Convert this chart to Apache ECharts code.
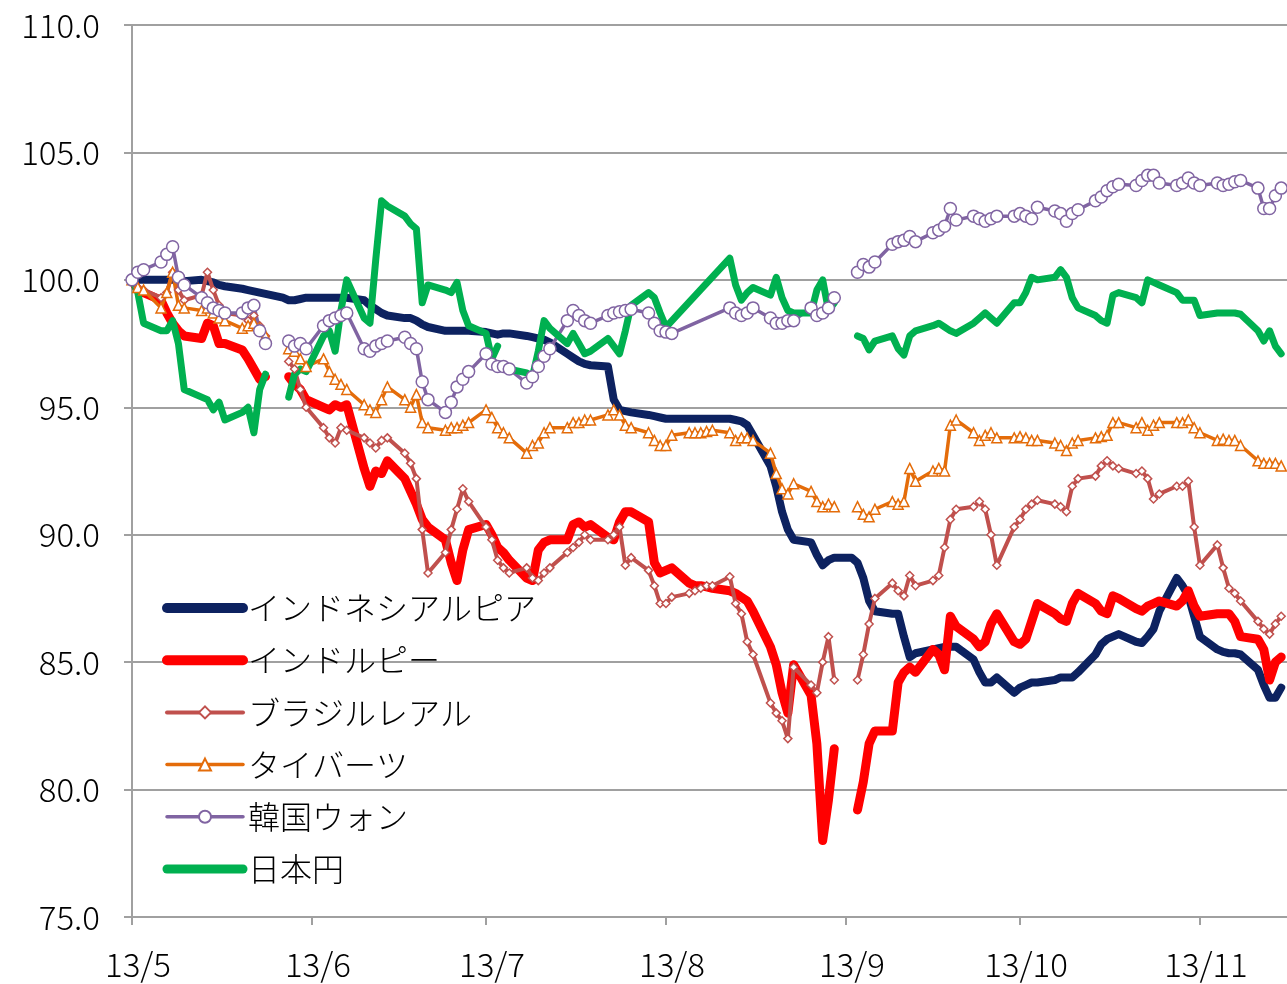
<!DOCTYPE html>
<html><head><meta charset="utf-8">
<script src="https://cdn.jsdelivr.net/npm/echarts@6/dist/echarts.min.js"></script>
<style>html,body{margin:0;padding:0;background:#fff}#c{width:1287px;height:984px}</style>
</head><body><div id="c"></div>
<script>
const _ = undefined; // day without a point (line is drawn straight across it)
const startDate = '2013-05-01';
const endDate = '2013-11-15';
const axisEnd = '2013-11-16';
const monthLabelPrefix = '13/';
const yTicks = [75, 80, 85, 90, 95, 100, 105, 110];
const seriesNames = ['インドネシアルピア', 'インドルピー', 'ブラジルレアル', 'タイバーツ', '韓国ウォン', '日本円'];

// business days (Mon-Fri) between startDate and endDate
function weekdays(s, e) {
  const out = []; let d = new Date(s + 'T00:00:00Z'); const end = new Date(e + 'T00:00:00Z');
  while (d <= end) { const w = d.getUTCDay(); if (w !== 0 && w !== 6) out.push(d.toISOString().slice(0, 10)); d = new Date(d.getTime() + 86400000); }
  return out;
}
const dates = weekdays(startDate, endDate);

// values per business day, grouped by month (May 23, Jun 20, Jul 23, Aug 22, Sep 21, Oct 23, Nov 11)
const idr = [
  100.0,100.0,100.0,100.0,100.0,100.0,100.0,99.95,100.0,99.95,99.9,99.8,99.75,99.65,99.6,99.55,99.5,99.45,99.3,99.2,99.2,99.25,99.3,
  99.3,99.3,99.3,99.3,99.3,99.2,99.0,98.85,98.7,98.6,98.5,98.5,98.4,98.25,98.15,98.0,98.0,98.0,98.0,98.0,
  97.95,97.9,97.85,97.9,97.9,97.8,97.75,97.7,97.65,97.55,97.1,96.95,96.8,96.7,96.65,96.6,95.3,94.9,94.85,94.8,94.7,94.65,94.6,
  94.55,94.55,94.55,94.55,94.55,94.55,94.55,94.55,94.5,94.45,94.3,93.9,92.7,91.9,90.9,90.2,89.8,89.7,89.2,88.8,89.0,89.1,
  89.1,88.9,88.3,87.4,87.0,86.9,86.9,86.0,85.2,85.35,85.5,85.55,85.6,85.6,85.6,85.1,84.6,84.2,84.2,84.4,83.8,
  84.0,84.1,84.2,84.2,84.3,84.4,84.4,84.4,84.6,85.3,85.7,85.9,86.0,86.1,85.8,85.75,86.0,86.3,87.0,88.3,88.0,87.6,86.8,
  86.0,85.5,85.4,85.35,85.35,85.3,84.7,84.1,83.6,83.6,84.0
];
const inr = [
  100.0,99.6,99.5,99.2,98.7,98.3,98.0,97.8,97.7,98.3,98.2,97.5,97.5,97.25,96.9,96.5,96.1,96.2,null,96.2,95.9,95.7,95.3,
  95.0,94.9,95.1,95.0,95.1,92.6,91.9,92.5,92.4,92.9,92.2,91.7,91.2,90.6,90.3,89.8,88.9,88.2,89.4,90.2,
  90.4,90.0,89.5,89.3,89.0,88.3,88.2,89.4,89.7,89.8,89.8,90.4,90.5,90.3,90.4,89.9,89.8,90.5,90.9,90.9,90.5,88.9,88.5,
  88.6,88.7,88.1,88.0,88.0,87.95,87.9,87.8,87.7,87.55,87.4,87.0,85.6,84.9,83.8,83.0,84.9,83.7,81.8,78.0,79.6,81.6,
  null,79.2,80.3,81.8,82.3,82.3,84.2,84.6,84.8,84.6,85.5,85.3,84.7,86.8,86.4,85.9,85.6,85.8,86.5,86.9,85.8,
  85.7,85.9,86.6,87.3,86.9,86.7,86.6,87.3,87.7,87.3,87.0,86.9,87.6,87.5,87.1,87.0,87.2,87.3,87.4,87.2,87.4,87.8,87.2,
  86.8,86.9,86.9,86.9,86.6,86.0,85.9,85.5,84.3,85.0,85.2
];
const brl = [
  100.0,99.7,99.6,99.3,99.5,100.3,99.6,99.2,99.4,100.3,99.6,99.0,98.7,98.6,98.4,98.6,98.2,97.8,null,96.8,96.5,95.7,95.0,
  94.2,93.8,93.6,94.2,94.1,93.8,93.6,93.4,93.7,93.8,93.2,92.8,92.2,90.2,88.5,89.3,90.2,91.0,91.8,91.3,
  90.3,89.8,89.0,88.7,88.5,88.7,88.3,88.2,88.5,88.7,89.3,89.5,89.7,90.0,89.8,89.8,90.0,90.3,88.8,89.1,88.6,88.0,87.3,
  87.3,87.55,87.7,87.8,87.9,88.0,88.0,88.35,87.3,86.9,85.8,85.3,83.4,83.0,82.7,82.0,84.8,84.1,83.8,85.0,86.0,84.3,
  null,84.3,85.3,86.5,87.5,88.1,87.8,87.6,88.4,88.0,88.2,88.4,89.5,90.6,91.0,91.1,91.3,91.0,90.0,88.8,90.3,
  90.6,91.0,91.2,91.35,91.2,91.1,90.9,91.9,92.2,92.3,92.7,92.9,92.7,92.6,92.4,92.5,92.2,91.4,91.6,91.9,91.9,92.1,90.3,
  88.8,89.6,88.7,87.9,87.7,87.4,86.6,86.3,86.1,86.5,86.8
];
const thb = [
  100.0,99.7,99.6,98.9,99.5,100.3,99.0,98.9,98.8,98.9,98.7,98.5,98.4,98.1,98.2,98.3,98.1,97.8,null,97.3,97.2,96.9,96.6,
  96.9,96.4,96.1,95.9,95.7,95.1,94.9,94.8,95.3,95.8,95.3,95.0,95.5,94.4,94.2,94.1,94.2,94.2,94.3,94.4,
  94.9,94.6,94.2,94.0,93.8,93.2,93.5,93.6,94.0,94.2,94.2,94.4,94.4,94.5,94.5,94.7,94.9,94.7,94.3,94.2,94.0,93.7,93.5,
  93.5,93.9,94.0,94.0,94.0,94.05,94.1,94.0,93.7,93.8,93.8,93.7,93.2,92.4,91.8,91.6,92.0,91.7,91.3,91.1,91.2,91.1,
  null,91.1,90.8,90.7,91.0,91.3,91.2,91.3,92.6,92.1,92.5,92.6,92.5,94.3,94.5,94.0,93.7,93.9,94.0,93.8,93.8,
  93.85,93.8,93.7,93.7,93.6,93.5,93.3,93.6,93.7,93.8,93.85,93.9,94.4,94.4,94.2,94.4,94.1,94.3,94.4,94.4,94.4,94.5,94.2,
  94.0,93.7,93.75,93.7,93.7,93.5,92.9,92.8,92.8,92.8,92.7
];
const krw = [
  100.0,100.3,100.4,100.7,101.0,101.3,100.1,99.8,99.3,99.1,98.9,98.8,98.7,98.7,98.9,99.0,98.0,97.5,null,97.6,97.4,97.5,97.3,
  98.2,98.4,98.5,98.6,98.7,97.3,97.2,97.4,97.5,97.6,97.75,97.5,97.3,96.0,95.3,94.8,95.2,95.8,96.1,96.4,
  97.1,96.7,96.6,96.6,96.5,95.95,96.2,96.6,97.0,97.3,98.4,98.8,98.6,98.4,98.3,98.6,98.7,98.75,98.8,98.85,98.7,98.3,98.0,
  97.95,97.9,_,_,_,_,_,98.9,98.7,98.6,98.7,98.9,98.5,98.3,98.3,98.4,98.4,98.9,98.6,98.7,98.9,99.3,
  null,100.3,100.6,100.5,100.7,101.4,101.5,101.55,101.7,101.5,101.85,101.95,102.1,102.8,102.35,102.5,102.4,102.3,102.4,102.5,102.5,
  102.6,102.5,102.4,102.85,102.7,102.6,102.3,102.6,102.75,103.1,103.25,103.5,103.65,103.75,103.7,103.9,104.1,104.1,103.8,103.7,103.8,104.0,103.8,
  103.7,103.8,103.7,103.75,103.85,103.9,103.6,102.8,102.8,103.3,103.6
];
const jpy = [
  100.0,99.5,98.3,98.0,98.0,98.4,97.5,95.7,95.4,95.3,94.9,95.2,94.5,94.8,95.0,94.0,95.7,96.3,null,95.4,96.3,96.5,96.4,
  97.8,98.0,97.2,98.8,100.0,98.5,98.3,100.8,103.1,102.9,102.5,102.2,102.0,99.1,99.8,99.6,99.5,99.9,98.8,98.2,
  97.9,96.9,97.4,null,96.5,96.35,96.2,97.2,98.4,98.1,97.5,97.9,97.5,97.1,97.2,97.7,97.4,97.1,98.0,99.0,99.5,99.3,98.7,
  98.15,_,_,_,_,_,_,100.85,99.8,99.2,99.5,99.7,99.4,100.1,99.3,98.8,98.7,98.7,99.6,100.0,98.8,99.1,
  null,97.8,97.7,97.25,97.6,97.8,97.3,97.05,97.8,98.0,98.2,98.3,98.15,98.0,97.9,98.3,98.5,98.7,98.5,98.3,99.1,
  99.1,99.5,100.1,100.0,100.1,100.4,100.1,99.3,98.9,98.6,98.4,98.3,99.4,99.5,99.3,99.1,100.0,99.9,99.8,99.5,99.2,99.2,99.2,
  98.6,98.7,98.7,98.7,98.7,98.65,98.0,97.6,98.0,97.4,97.1
];

const pairs = vals => dates.map((d, i) => [d, vals[i]]).filter(p => p[1] !== undefined);

const font = '"Noto Sans CJK JP", "Noto Sans", sans-serif';
const gridGray = '#a0a0a0';
const styles = [
  { color: '#0d2260', width: 8, legendWidth: 10 },
  { color: '#ff0000', width: 9, legendWidth: 10 },
  { color: '#c0504d', width: 4, symbol: 'diamond', size: 8, legendWidth: 4 },
  { color: '#e46c0a', width: 3.5, symbol: 'triangle', size: 10, legendWidth: 3.5 },
  { color: '#8064a2', width: 3.5, symbol: 'circle', size: 12, legendWidth: 3.5 },
  { color: '#00b050', width: 7, legendWidth: 9 }
];
const seriesData = [idr, inr, brl, thb, krw, jpy];

const series = seriesNames.map((name, i) => {
  const s = styles[i];
  return {
    name, type: 'line', data: pairs(seriesData[i]), connectNulls: false,
    showSymbol: !!s.symbol, showAllSymbol: true, symbol: s.symbol || 'circle', symbolSize: s.size || 1,
    itemStyle: { color: s.symbol ? '#fff' : s.color, borderColor: s.color, borderWidth: 1.5 },
    lineStyle: { color: s.color, width: s.width, cap: 'round', join: 'round' },
    emphasis: { disabled: true }
  };
});
const legendData = seriesNames.map((name, i) => {
  const s = styles[i];
  const item = { name, lineStyle: { width: s.legendWidth, cap: 'round', color: s.color } };
  if (!s.symbol) item.itemStyle = { opacity: 0 };
  return item;
});

const chart = echarts.init(document.getElementById('c'), null, { renderer: 'canvas' });
chart.setOption({
  animation: false,
  backgroundColor: '#fff',
  grid: { left: 132, right: 0, top: 25, bottom: 67, containLabel: false },
  legend: {
    orient: 'vertical', left: 157, top: 587, itemWidth: 76, itemHeight: 15, itemGap: 20.2,
    data: legendData,
    textStyle: { fontFamily: font, fontSize: 32, fontWeight: 300, color: '#000' }
  },
  xAxis: {
    type: 'time', min: startDate, max: axisEnd,
    minInterval: 28 * 86400000, maxInterval: 31 * 86400000,
    axisLine: { lineStyle: { color: gridGray, width: 2 } },
    axisTick: { show: true, length: 8, lineStyle: { color: gridGray, width: 2 } },
    splitLine: { show: false },
    axisLabel: {
      fontFamily: font, fontSize: 33, fontWeight: 300, color: '#000', margin: 31, padding: [0, 0, 0, 12],
      formatter: v => { const d = new Date(v); return monthLabelPrefix + (d.getMonth() + 1); }
    }
  },
  yAxis: {
    type: 'value', min: yTicks[0], max: yTicks[yTicks.length - 1], interval: 5,
    axisLine: { show: true, lineStyle: { color: gridGray, width: 2 } },
    axisTick: { show: true, length: 8, lineStyle: { color: gridGray, width: 2 } },
    splitLine: { lineStyle: { color: gridGray, width: 2 } },
    axisLabel: { fontFamily: font, fontSize: 33, fontWeight: 300, color: '#000', margin: 32, formatter: v => v.toFixed(1) }
  },
  series
});
</script></body></html>
